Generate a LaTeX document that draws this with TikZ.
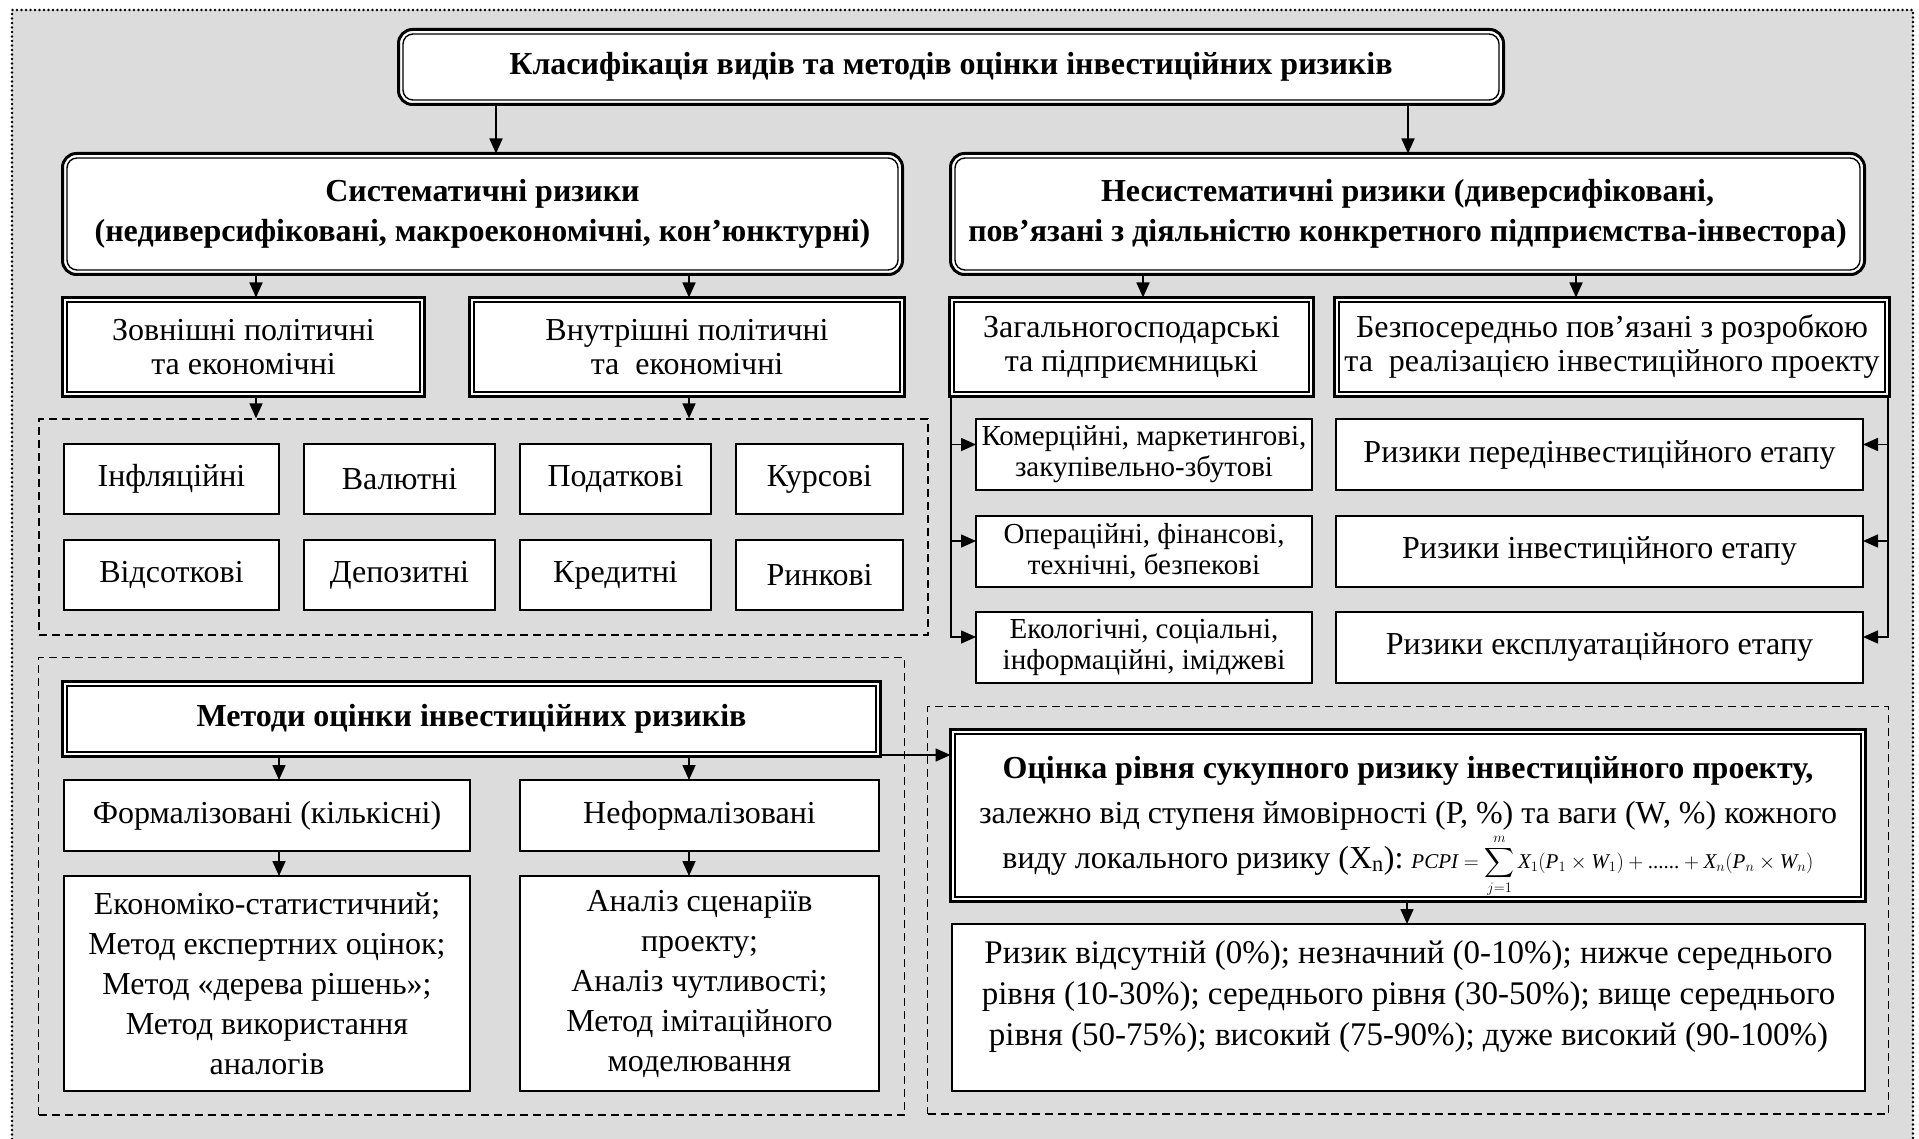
\documentclass[tikz,border=0pt]{standalone}
\usepackage{amsmath}
\usepackage{fontspec}
\setmainfont{Liberation Serif}
\usetikzlibrary{arrows.meta,fit}
\definecolor{panelgray}{RGB}{220,220,220}

\newcommand{\InnerFrame}[2]%
% node, corner radius
{   \draw[line width=1.4pt, rounded corners=#2]
        ([shift={(4.5pt,-4.5pt)}]#1.north west) rectangle
        ([shift={(-4.5pt,4.5pt)}]#1.south east);
}

\begin{document}
\begin{tikzpicture}
[   x=1pt, y=-1pt,
    roundframe/.style={draw, line width=3pt, fill=white, rounded corners=14pt, outer sep=0, inner sep=0, align=center, font=\bfseries\fontsize{32}{40}\selectfont},
    dblframe/.style={draw, line width=3pt, fill=white, outer sep=0, inner sep=0, align=center, font=\fontsize{32}{34}\selectfont},
    riskbox/.style={draw, line width=2pt, fill=white, outer sep=0, inner sep=0, align=center, font=\fontsize{32}{30}\selectfont},
    zone/.style={draw, line width=1.3pt, dash pattern=on 8pt off 5pt, inner sep=25pt},
    dotframe/.style={line width=2.6pt, line cap=round, dash pattern=on 0pt off 4.5pt},
    arr/.style={line width=1.6pt, -{Triangle[length=15pt, width=13pt]}}
]
    \useasboundingbox (0,0) rectangle (1919,1139);
    \fill[panelgray] (12,10) rectangle (1913,1139);
    \draw[dotframe] (12,1139) |- (1913,10) -- (1913,1139);

    % top level
    \node[roundframe, minimum width=1105, minimum height=75] (title) at (951,67)
        {Класифікація видів та методів оцінки інвестиційних ризиків};
    \InnerFrame{title}{10pt}
    \node[roundframe, minimum width=840, minimum height=121] (sys) at (482.5,214)
        {Систематичні ризики\\(недиверсифіковані, макроекономічні, кон’юнктурні)};
    \InnerFrame{sys}{10pt}
    \node[roundframe, minimum width=914, minimum height=121] (nonsys) at (1407.5,214)
        {Несистематичні ризики (диверсифіковані,\\пов’язані з діяльністю конкретного підприємства-інвестора)};
    \InnerFrame{nonsys}{10pt}

    % second level
    \node[dblframe, minimum width=362, minimum height=99] (ext) at (243.5,347)
        {Зовнішні політичні\\та економічні};
    \node[dblframe, minimum width=435, minimum height=99] (int) at (687,347)
        {Внутрішні політичні\\та~ економічні};
    \node[dblframe, minimum width=364, minimum height=99] (gen) at (1131.5,347)
        {Загальногосподарські\\та підприємницькі};
    \node[dblframe, minimum width=555, minimum height=99] (dir) at (1612,347)
        {Безпосередньо пов’язані з розробкою\\та~ реалізацією інвестиційного проекту};
    \foreach \n in {ext,int,gen,dir}
    {   \InnerFrame{\n}{0pt}
    }

    % systematic risks
    \foreach \n/\x/\w/\t in {inf/171.5/215/Інфляційні, val/399.5/191/Валютні,
        tax/615.5/191/Податкові, kurs/819.5/167/Курсові}
    {   \node[riskbox, minimum width=\w, minimum height=70] (\n) at (\x,479) {\t};
    }
    \foreach \n/\x/\w/\t in {pct/171.5/215/Відсоткові, dep/399.5/191/Депозитні,
        cred/615.5/191/Кредитні, mark/819.5/167/Ринкові}
    {   \node[riskbox, minimum width=\w, minimum height=70] (\n) at (\x,575) {\t};
    }
    \node[zone, fit=(inf)(mark)] (sysset) {};

    % non-systematic risks
    \node[riskbox, minimum width=336, minimum height=71, font=\fontsize{29}{31}\selectfont]
        (kom) at (1144,454.5) {Комерційні, маркетингові,\\закупівельно-збутові};
    \node[riskbox, minimum width=336, minimum height=71, font=\fontsize{29}{31}\selectfont]
        (oper) at (1144,551) {Операційні, фінансові,\\технічні, безпекові};
    \node[riskbox, minimum width=336, minimum height=71, font=\fontsize{29}{31}\selectfont]
        (eco) at (1144,647) {Екологічні, соціальні,\\інформаційні, іміджеві};
    \foreach \n/\y/\t in {pre/454.5/передінвестиційного, inv/551/інвестиційного,
        expl/647/експлуатаційного}
    {   \node[riskbox, minimum width=527, minimum height=71] (\n) at (1599.5,\y)
            {Ризики \t{} етапу};
    }

    % methods
    \node[dblframe, minimum width=818, minimum height=75, font=\bfseries\fontsize{32}{34}\selectfont]
        (meth) at (471.5,719) {Методи оцінки інвестиційних ризиків};
    \InnerFrame{meth}{0pt}
    \node[riskbox, minimum width=406, minimum height=71] (form) at (267,815.5)
        {Формалізовані (кількісні)};
    \node[riskbox, minimum width=359, minimum height=71] (inform) at (699.5,815.5)
        {Неформалізовані};
    \node[riskbox, minimum width=406, minimum height=215, font=\fontsize{32}{40}\selectfont]
        (formlist) at (267,983.5)
        {Економіко-статистичний;\\Метод експертних оцінок;\\Метод «дерева рішень»;\\Метод використання\\аналогів};
    \node[riskbox, minimum width=359, minimum height=215, font=\fontsize{32}{40}\selectfont]
        (informlist) at (699.5,983.5)
        {Аналіз сценаріїв\\проекту;\\Аналіз чутливості;\\Метод імітаційного\\моделювання};
    \node[zone, inner sep=24pt, fit=(meth)(formlist)(informlist)] (methset) {};

    % total risk
    \node[dblframe, minimum width=915, minimum height=172, font=\fontsize{32}{45}\selectfont]
        (assess) at (1408,815.5)
        {\textbf{Оцінка рівня сукупного ризику інвестиційного проекту,}\\
         залежно від ступеня ймовірності (P, \%) та ваги (W, \%) кожного\\
         виду локального ризику (X\textsubscript{n}):\ {\fontsize{21}{21}\selectfont
         \smash{$\textit{PCPI}=\displaystyle\sum_{j=1}^{m}\textit{X}_1(\textit{P}_1\times\textit{W}_1)+\mbox{......}+\textit{X}_n(\textit{P}_n\times\textit{W}_n)$}}};
    \InnerFrame{assess}{0pt}
    \node[riskbox, minimum width=913, minimum height=167, font=\fontsize{33}{41}\selectfont]
        (scale) at (1408.5,1007.5)
        {\raisebox{11pt}[\height][\depth]{\begin{tabular}{@{}c@{}}
         Ризик відсутній (0\%); незначний (0-10\%); нижче середнього\\
         рівня (10-30\%); середнього рівня (30-50\%); вище середнього\\
         рівня (50-75\%); високий (75-90\%); дуже високий (90-100\%)\end{tabular}}};
    \node[zone, inner sep=23pt, fit=(assess)(scale)] (totalset) {};

    % connectors
    \draw[arr] (title.south -| 496,0) -- (sys.north -| 496,0);
    \draw[arr] (title.south -| 1408,0) -- (nonsys.north -| 1408,0);
    \draw[arr] (sys.south -| 256,0) -- (ext.north -| 256,0);
    \draw[arr] (sys.south -| 689,0) -- (int.north -| 689,0);
    \draw[arr] (nonsys.south -| 1143,0) -- (gen.north -| 1143,0);
    \draw[arr] (nonsys.south -| 1576,0) -- (dir.north -| 1576,0);
    \draw[arr] (ext.south -| 256,0) -- (sysset.north -| 256,0);
    \draw[arr] (int.south -| 689,0) -- (sysset.north -| 689,0);
    \foreach \n in {kom,oper,eco}
    {   \draw[arr] (gen.south -| 951,0) |- ([yshift=10pt]\n.west);
    }
    \foreach \n in {pre,inv,expl}
    {   \draw[arr] (dir.south -| 1888,0) |- ([yshift=10pt]\n.east);
    }
    \draw[arr] (meth.south -| 279,0) -- (form.north -| 279,0);
    \draw[arr] (meth.south -| 689,0) -- (inform.north -| 689,0);
    \draw[arr] (form.south -| 279,0) -- (formlist.north -| 279,0);
    \draw[arr] (inform.south -| 689,0) -- (informlist.north -| 689,0);
    \draw[arr] (meth.east |- 0,755) -- (assess.west |- 0,755);
    \draw[arr] (assess.south -| 1407,0) -- (scale.north -| 1407,0);
\end{tikzpicture}
\end{document}
